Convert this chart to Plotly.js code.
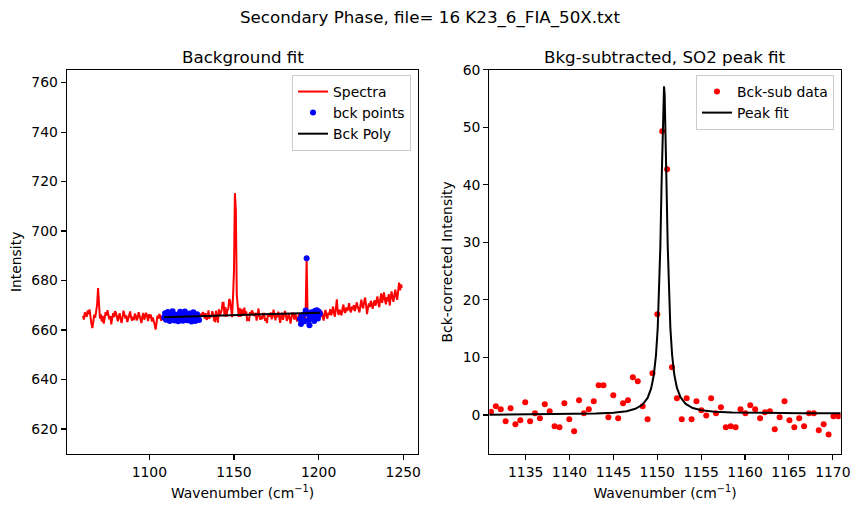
<!DOCTYPE html>
<html>
<head>
<meta charset="utf-8">
<script src="https://cdn.plot.ly/plotly-3.0.1.min.js"></script>
<style>
  html, body { margin: 0; padding: 0; background: #ffffff; }
  #chart { width: 860px; height: 513px; }
</style>
</head>
<body>
<div id="chart"></div>
<script>
// Raw spectrum, sampled on a uniform wavenumber grid
const spectrumStart = 1060.8;
const spectrumStep = 0.5575;
const spectrumIntensity = [
  665.8, 664.2, 667.1, 666.0, 665.3, 667.9, 666.4, 668.3, 664.9, 662.5,
  660.8, 663.7, 666.2, 665.0, 667.4, 670.2, 677.0, 668.8, 664.6, 666.3,
  663.4, 665.7, 662.6, 664.8, 667.2, 665.9, 668.0, 666.1, 664.3, 665.6,
  662.3, 664.9, 666.8, 665.2, 667.6, 666.9, 664.4, 663.5, 665.8, 666.7,
  664.1, 662.9, 665.3, 667.8, 666.2, 664.7, 665.9, 663.2, 664.6, 666.3,
  667.5, 665.1, 663.8, 665.4, 664.0, 666.6, 665.7, 663.9, 665.0, 667.2,
  666.0, 664.5, 662.8, 665.6, 666.9, 664.2, 665.3, 667.0, 665.5, 663.6,
  666.4, 664.8, 666.2, 663.4, 665.1, 664.0, 662.2, 660.2, 663.9, 665.8,
  664.6, 666.5, 665.2, 663.7, 665.9, 664.3,
  // 1108.75 .. 1129.37
  665.1, 666.8, 664.2, 665.7, 667.3, 665.4, 663.6, 664.9, 666.5, 667.6,
  665.0, 663.8, 664.7, 666.2, 665.3, 663.5, 664.8, 667.4, 666.1, 664.4,
  663.7, 665.6, 667.5, 666.3, 664.0, 663.9, 665.2, 666.7, 664.6, 663.4,
  665.8, 667.2, 665.5, 663.6, 664.5, 666.4, 665.0, 664.1,
  665.9, 666.3,
  // 1131.05 .. 1170.63
  666.2, 667.2, 666.6, 664.6, 666.8, 664.1, 664.8, 667.9, 664.6, 666.0,
  665.2, 667.6, 666.4, 663.8, 663.6, 667.8, 665.1, 663.0, 668.4, 666.1,
  666.8, 668.2, 671.0, 671.0, 665.5, 669.3, 665.3, 668.0, 668.5, 672.5,
  671.8, 667.5, 665.2, 673.2, 683.5, 715.3, 708.7, 674.3, 668.9, 665.3,
  669.0, 665.3, 668.5, 666.9, 666.0, 669.0, 666.4, 667.5, 664.0, 664.2,
  664.0, 667.2, 666.5, 667.9, 667.2, 665.7, 666.7, 666.9, 663.8, 665.9,
  668.7, 665.4, 664.2, 665.7, 664.4, 666.6, 666.6, 663.7, 664.8, 662.8,
  666.2, 666.2,
  // 1171.2 .. 1188.5
  665.4, 667.1, 664.3, 666.0, 668.2, 665.6, 663.9, 666.7, 665.2, 667.4,
  664.6, 662.9, 665.8, 666.9, 664.1, 665.5, 667.7, 666.2, 663.7, 665.0,
  666.4, 664.8, 662.6, 665.3, 667.0, 665.9, 664.2, 666.6, 665.1, 663.4,
  664.9, 666.8,
  // 1189.03 .. 1200.73
  664.5, 662.4, 665.8, 664.0, 666.3, 663.5, 667.9, 689.0, 666.6, 664.1,
  661.9, 665.4, 667.2, 664.8, 666.9, 663.6, 667.8, 665.5, 668.0, 664.7,
  667.4, 666.5,
  // 1201.3 .. 1249.2
  665.2, 667.6, 664.9, 663.8, 666.5, 668.1, 665.7, 664.6, 667.0, 666.2,
  668.4, 665.9, 667.3, 669.5, 666.8, 665.4, 668.9, 672.4, 667.6, 666.1,
  668.2, 667.0, 665.9, 668.7, 670.3, 667.5, 666.9, 669.1, 667.8, 668.6,
  670.9, 668.0, 667.2, 669.4, 668.3, 670.1, 667.6, 669.0, 671.2, 669.7,
  668.4, 667.1, 670.0, 672.3, 669.5, 668.8, 671.6, 673.1, 670.2, 666.4,
  668.9, 670.7, 669.3, 671.8, 670.4, 668.6, 670.9, 672.0, 669.8, 671.3,
  673.6, 670.7, 669.2, 672.5, 674.8, 671.0, 673.9, 675.2, 672.1, 670.4,
  673.3, 671.6, 674.5, 669.9, 672.8, 675.6, 673.0, 671.4, 674.2, 676.3,
  673.5, 672.2, 675.8, 679.2, 676.0, 678.4, 677.1
];

// Background anchor points (two windows either side of the peak)
const bckLowStart = 1108.75;
const bckLowIntensity = [
  665.1, 666.8, 664.2, 665.7, 667.3, 665.4, 663.6, 664.9, 666.5, 667.6,
  665.0, 663.8, 664.7, 666.2, 665.3, 663.5, 664.8, 667.4, 666.1, 664.4,
  663.7, 665.6, 667.5, 666.3, 664.0, 663.9, 665.2, 666.7, 664.6, 663.4,
  665.8, 667.2, 665.5, 663.6, 664.5, 666.4, 665.0, 664.1
];
const bckHighStart = 1189.03;
const bckHighIntensity = [
  664.5, 662.4, 665.8, 664.0, 666.3, 663.5, 667.9, 689.0, 666.6, 664.1,
  661.9, 665.4, 667.2, 664.8, 666.9, 663.6, 667.8, 665.5, 668.0, 664.7,
  667.4, 666.5
];

// Background polynomial evaluated over the fit window
const bckPolyX = [1108.75, 1120, 1131, 1140, 1150, 1160, 1171, 1180, 1190, 1200.73];
const bckPolyY = [665.19, 665.41, 665.63, 665.80, 666.00, 666.19, 666.41, 666.58, 666.78, 667.01];

// Background-subtracted data around the SO2 band
const subStart = 1131.05;
const subStep = 0.5575;
const subIntensity = [
  0.57, 1.51, 0.99, -1.10, 1.16, -1.62, -0.93, 2.20, -1.10, 0.29,
  -0.58, 1.86, 0.64, -1.97, -2.14, 2.03, -0.75, -2.84, 2.55, 0.29,
  0.99, 2.38, 5.16, 5.16, -0.41, 3.42, -0.58, 2.03, 2.55, 6.55,
  5.86, 1.51, -0.75, 7.25, 17.5, 49.3, 42.7, 8.3, 2.90, -0.75,
  2.90, -0.75, 2.38, 0.82, -0.10, 2.90, 0.29, 1.33, -2.14, -1.97,
  -2.14, 0.99, 0.29, 1.68, 0.99, -0.58, 0.46, 0.64, -2.49, -0.41,
  2.38, -0.93, -2.14, -0.58, -1.97, 0.29, 0.29, -2.66, -1.62, -3.40,
  -0.23, -0.23
];

// Fitted peak profile
const fitX = [
  1130.86, 1135, 1140, 1143, 1145, 1146.5, 1147.5, 1148.3, 1148.9, 1149.3,
  1149.6, 1149.85, 1150.05, 1150.2, 1150.35, 1150.5, 1150.62, 1150.7, 1150.77, 1150.84,
  1150.92, 1151.04, 1151.19, 1151.34, 1151.49, 1151.69, 1151.94, 1152.24, 1152.64, 1153.24,
  1154.04, 1155.04, 1156.54, 1158.54, 1161.54, 1166.54, 1170.9
];
const fitY = [
  0.06, 0.09, 0.15, 0.24, 0.39, 0.66, 1.07, 1.78, 2.97, 4.61,
  6.90, 10.34, 15.12, 20.80, 29.30, 41.01, 50.95, 55.66, 57.13, 55.67,
  50.97, 41.04, 29.34, 20.85, 15.18, 10.42, 6.99, 4.71, 3.09, 1.91,
  1.21, 0.82, 0.57, 0.44, 0.36, 0.31, 0.29
];

const FONT = 'DejaVu Sans, Verdana, sans-serif';
const TICK = 13.9;
const TITLE = 16.7;

function axisStyle(extra) {
  return Object.assign({
    showline: true, linecolor: '#000', linewidth: 1.1, mirror: true,
    ticks: 'outside', ticklen: 5, tickwidth: 1.1, tickcolor: '#000',
    showgrid: false, zeroline: false,
    tickfont: { family: FONT, size: TICK, color: '#000' }
  }, extra);
}

function axisTitle(text, standoff) {
  return { text: text, standoff: standoff, font: { family: FONT, size: TICK, color: '#000' } };
}

const traces = [
  {
    name: 'Spectra', type: 'scatter', mode: 'lines',
    x0: spectrumStart, dx: spectrumStep, y: spectrumIntensity,
    line: { color: '#ff0000', width: 2 },
    xaxis: 'x', yaxis: 'y', legend: 'legend'
  },
  {
    name: 'bck points', type: 'scatter', mode: 'markers',
    x0: bckLowStart, dx: spectrumStep, y: bckLowIntensity,
    marker: { color: '#0000ff', size: 6 },
    legendgroup: 'bck', xaxis: 'x', yaxis: 'y', legend: 'legend'
  },
  {
    name: 'bck points', type: 'scatter', mode: 'markers',
    x0: bckHighStart, dx: spectrumStep, y: bckHighIntensity,
    marker: { color: '#0000ff', size: 6 },
    legendgroup: 'bck', showlegend: false, xaxis: 'x', yaxis: 'y', legend: 'legend'
  },
  {
    name: 'Bck Poly', type: 'scatter', mode: 'lines',
    x: bckPolyX, y: bckPolyY,
    line: { color: '#000000', width: 2 },
    xaxis: 'x', yaxis: 'y', legend: 'legend'
  },
  {
    name: 'Bck-sub data', type: 'scatter', mode: 'markers',
    x0: subStart, dx: subStep, y: subIntensity,
    marker: { color: '#ff0000', size: 6 },
    xaxis: 'x2', yaxis: 'y2', legend: 'legend2'
  },
  {
    name: 'Peak fit', type: 'scatter', mode: 'lines',
    x: fitX, y: fitY,
    line: { color: '#000000', width: 2 },
    xaxis: 'x2', yaxis: 'y2', legend: 'legend2'
  }
];

const W = 860, H = 513;
const px = v => v / W;
const py = v => 1 - v / H;

const legendStyle = {
  bgcolor: 'rgba(255,255,255,0.8)', bordercolor: '#cccccc', borderwidth: 1,
  font: { family: FONT, size: TICK, color: '#000' },
  xanchor: 'right', yanchor: 'top', xref: 'paper', yref: 'paper',
  tracegroupgap: 0, itemwidth: 30
};

const layout = {
  width: W, height: H,
  margin: { l: 0, r: 0, t: 0, b: 0 },
  paper_bgcolor: '#ffffff', plot_bgcolor: '#ffffff',
  font: { family: FONT, color: '#000' },
  title: {
    text: 'Secondary Phase, file= 16 K23_6_FIA_50X.txt',
    font: { family: FONT, size: TITLE, color: '#000' },
    x: 0.5, xanchor: 'center', xref: 'paper',
    y: py(17.5), yanchor: 'middle', yref: 'container'
  },
  xaxis: axisStyle({
    domain: [px(66.7), px(418.3)], range: [1051.2, 1258.9],
    tickvals: [1100, 1150, 1200, 1250], anchor: 'y',
    title: axisTitle('Wavenumber (cm<sup>−1</sup>)', 9)
  }),
  yaxis: axisStyle({
    domain: [py(454), py(69.7)], range: [609.9, 765.2],
    tickvals: [620, 640, 660, 680, 700, 720, 740, 760], anchor: 'x',
    title: axisTitle('Intensity', 6)
  }),
  xaxis2: axisStyle({
    domain: [px(489.3), px(840.7)], range: [1130.86, 1170.9],
    tickvals: [1135, 1140, 1145, 1150, 1155, 1160, 1165, 1170], anchor: 'y2',
    title: axisTitle('Wavenumber (cm<sup>−1</sup>)', 9)
  }),
  yaxis2: axisStyle({
    domain: [py(454), py(69.7)], range: [-6.78, 60],
    tickvals: [0, 10, 20, 30, 40, 50, 60], anchor: 'x2',
    title: axisTitle('Bck-corrected Intensity', 6)
  }),
  legend: Object.assign({}, legendStyle, { x: px(411), y: py(75) }),
  legend2: Object.assign({}, legendStyle, { x: px(834), y: py(75) }),
  annotations: [
    {
      text: 'Background fit', xref: 'paper', yref: 'paper',
      x: px(242.5), y: py(56.5), xanchor: 'center', yanchor: 'middle',
      showarrow: false, font: { family: FONT, size: TITLE, color: '#000' }
    },
    {
      text: 'Bkg-subtracted, SO2 peak fit', xref: 'paper', yref: 'paper',
      x: px(665), y: py(56.5), xanchor: 'center', yanchor: 'middle',
      showarrow: false, font: { family: FONT, size: TITLE, color: '#000' }
    }
  ],
  showlegend: true
};

Plotly.newPlot('chart', traces, layout, { staticPlot: true, displayModeBar: false });
</script>
</body>
</html>
